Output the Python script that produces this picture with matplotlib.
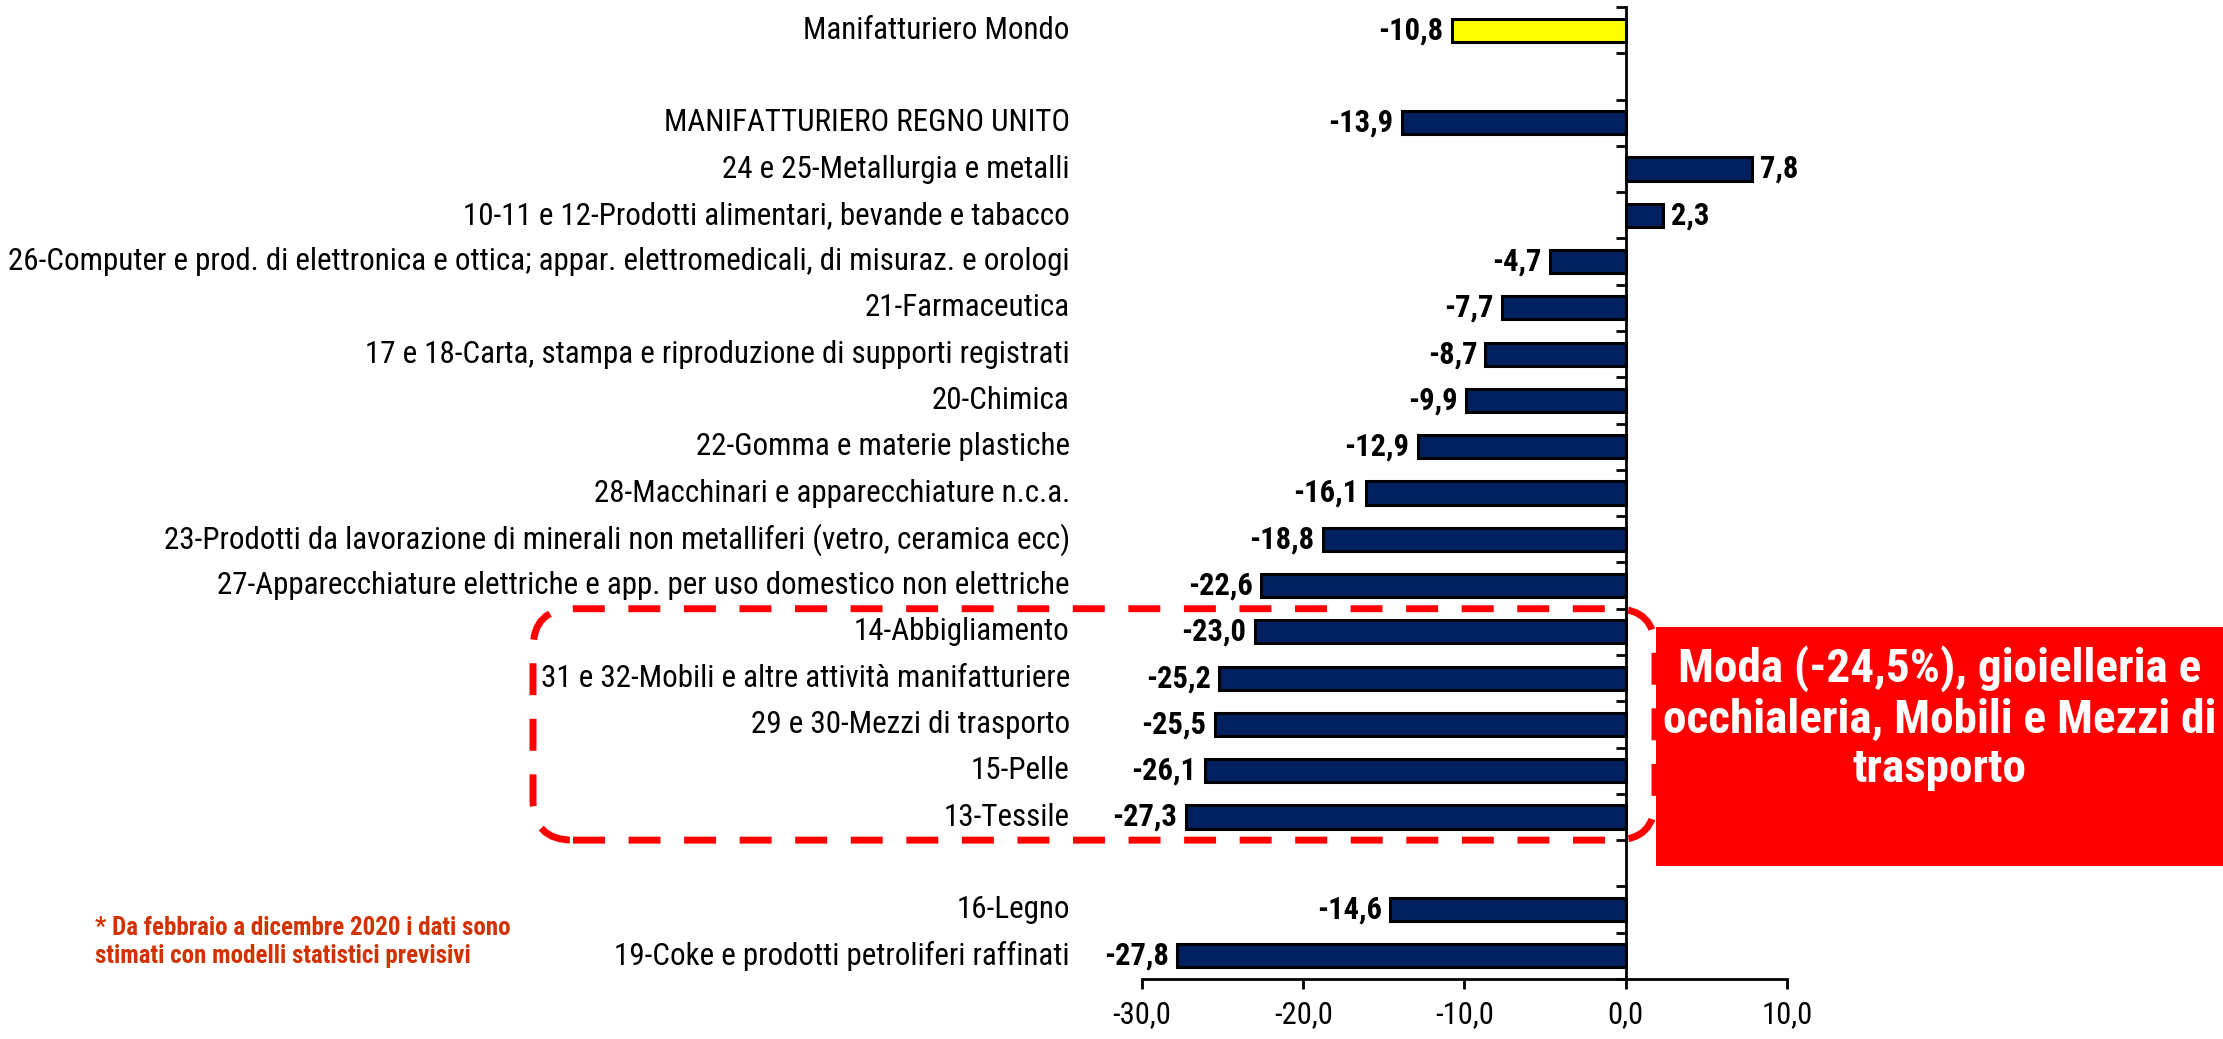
import numpy as np
import matplotlib
matplotlib.use('Agg')
import matplotlib.pyplot as plt
from matplotlib.patches import FancyBboxPatch, Rectangle
from matplotlib.ticker import FuncFormatter
import matplotlib.transforms as mtransforms

plt.rcParams['font.family'] = ['Arial Narrow', 'Liberation Sans Narrow', 'Roboto Condensed',
                               'Archivo Narrow', 'Liberation Sans', 'DejaVu Sans']

# dati (var. % tendenziale), le voci vuote sono spazi tra i gruppi
categorie = ["Manifatturiero Mondo",
             "",
             "MANIFATTURIERO REGNO UNITO",
             "24 e 25-Metallurgia e metalli",
             "10-11 e 12-Prodotti alimentari, bevande e tabacco",
             "26-Computer e prod. di elettronica e ottica; appar. elettromedicali, di misuraz. e orologi",
             "21-Farmaceutica",
             "17 e 18-Carta, stampa e riproduzione di supporti registrati",
             "20-Chimica",
             "22-Gomma e materie plastiche",
             "28-Macchinari e apparecchiature n.c.a.",
             "23-Prodotti da lavorazione di minerali non metalliferi (vetro, ceramica ecc)",
             "27-Apparecchiature elettriche e app. per uso domestico non elettriche",
             "14-Abbigliamento",
             "31 e 32-Mobili e altre attività manifatturiere",
             "29 e 30-Mezzi di trasporto",
             "15-Pelle",
             "13-Tessile",
             "",
             "16-Legno",
             "19-Coke e prodotti petroliferi raffinati"]
valori = [-10.8, np.nan, -13.9, 7.8, 2.3, -4.7, -7.7, -8.7, -9.9, -12.9, -16.1,
          -18.8, -22.6, -23.0, -25.2, -25.5, -26.1, -27.3, np.nan, -14.6, -27.8]
evidenza = ["Manifatturiero Mondo"]
x_ticks = [-30, -20, -10, 0, 10]
nota = "* Da febbraio a dicembre 2020 i dati sono\nstimati con modelli statistici previsivi"
box_testo = "Moda (-24,5%), gioielleria e\nocchialeria, Mobili e Mezzi di\ntrasporto"

W, H = 2223, 1039
fig = plt.figure(figsize=(W/100, H/100), dpi=100)
ax = fig.add_axes([1142/W, 1-979/H, (1787-1142)/W, (979-7)/H])

pos = np.arange(len(categorie))
colori = ['#FFFF00' if c in evidenza else '#002060' for c in categorie]
ax.barh(pos, valori, height=0.5, color=colori, edgecolor='black', linewidth=2.2, zorder=3)

ax.set_xlim(-30, 10)
ax.set_ylim(len(categorie)-0.5, -0.5)
ax.set_xticks(x_ticks)
ax.xaxis.set_major_formatter(FuncFormatter(lambda v, p: f"{v:.1f}".replace('.', ',')))
ax.set_yticks(np.arange(len(categorie)+1)-0.5)
ax.set_yticklabels([])
ax.spines['left'].set_position(('data', 0))
ax.spines['top'].set_visible(False)
ax.spines['right'].set_visible(False)
for s in ['left', 'bottom']:
    ax.spines[s].set_linewidth(2)
ax.tick_params(axis='x', direction='out', length=7.5, width=2, labelsize=22, pad=8)
ax.tick_params(axis='y', direction='out', length=7.5, width=2)

# etichette categorie a sinistra
trans = mtransforms.blended_transform_factory(ax.transAxes, ax.transData)
for p, c in zip(pos, categorie):
    if c:
        ax.text(-0.112, p, c, transform=trans, ha='right', va='center', fontsize=22.3)

# valori sulle barre
for p, v in zip(pos, valori):
    if np.isnan(v):
        continue
    lab = f"{v:.1f}".replace('.', ',')
    off = 6 if v > 0 else -6
    ax.annotate(lab, (v, p), xytext=(off, 0), textcoords='offset points',
                ha='left' if v > 0 else 'right', va='center',
                fontsize=22, fontweight='bold')

# nota
fig.text(95/W, 1-942/H, nota, ha='left', va='center', fontsize=18,
         fontweight='bold', color='#D23200', linespacing=1.25)

# riquadro tratteggiato e box rosso, in pixel della figura
ov = fig.add_axes([0, 0, 1, 1], facecolor='none')
ov.set_xlim(0, W)
ov.set_ylim(0, H)
ov.axis('off')
y_top = ax.transData.transform((0, 12.5))[1]
y_bot = ax.transData.transform((0, 17.5))[1]
rr = FancyBboxPatch((533, y_bot), 1655-533, y_top-y_bot,
                    boxstyle="round,pad=0,rounding_size=40",
                    fill=False, edgecolor='#FF0000', linewidth=5,
                    linestyle=(0, (4.6, 3.4)), capstyle='butt', zorder=2)
ov.add_patch(rr)
ov.add_patch(Rectangle((1656, H-866), W-1656+5, 866-627, facecolor='#FF0000',
                       edgecolor='none', zorder=5))
ov.text((1656+W)/2, H-718, box_testo, ha='center', va='center', color='white',
        fontsize=34, fontweight='bold', linespacing=1.15, zorder=6)

fig.savefig('out.png', dpi=100)
